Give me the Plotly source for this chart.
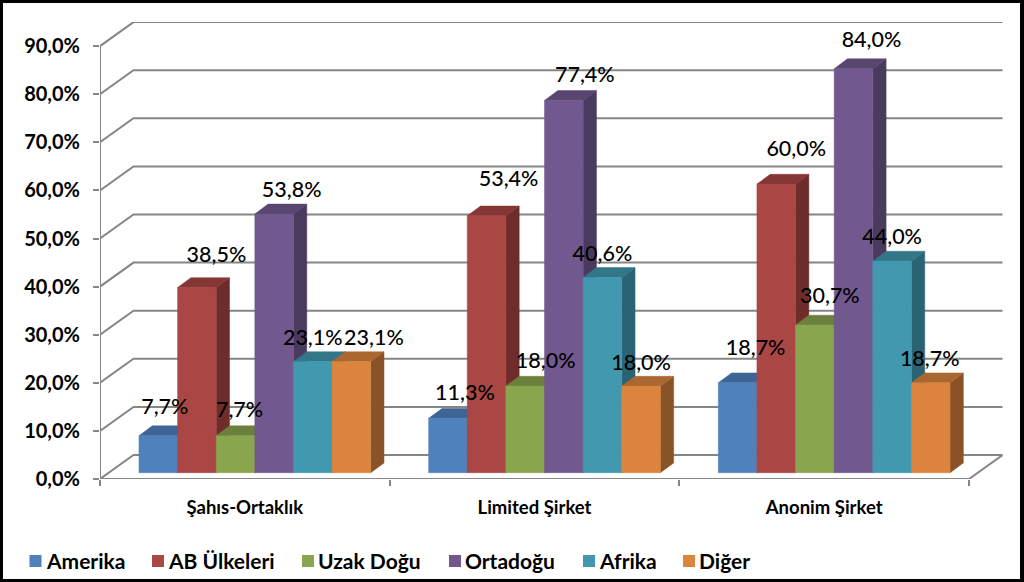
import plotly.graph_objects as go

categories = ["Şahıs-Ortaklık", "Limited Şirket", "Anonim Şirket"]
series_names = ["Amerika", "AB Ülkeleri", "Uzak Doğu", "Ortadoğu", "Afrika", "Diğer"]
amerika = [7.7, 11.3, 18.7]
ab_ulkeleri = [38.5, 53.4, 60.0]
uzak_dogu = [7.7, 18.0, 30.7]
ortadogu = [53.8, 77.4, 84.0]
afrika = [23.1, 40.6, 44.0]
diger = [23.1, 18.0, 18.7]
series_values = [amerika, ab_ulkeleri, uzak_dogu, ortadogu, afrika, diger]
y_ticks = [0, 10, 20, 30, 40, 50, 60, 70, 80, 90]

# styles
front = ["#4F81BD", "#AA4643", "#89A54E", "#71588F", "#4198AF", "#DB843D"]
top = ["#3E6595", "#853735", "#6B803D", "#584570", "#327688", "#AB6730"]
side = ["#335379", "#6E2C2A", "#586932", "#493A5E", "#2A6373", "#8A5327"]
GRID = "#868686"
TXT = "#000000"
FONT = "Lato"

# pixel geometry
W, H = 1024, 582
X0, X1, Y0, Y1 = 100, 1003, 479, 22
PX_X = 289.67   # pixels per category
PX_Y = 4.81     # pixels per percentage point
wall_dx, wall_dy = 33.5 / PX_X, 24 / PX_Y
bar_w = 1 / 7.5
bar_dx, bar_dy = 13.3 / PX_X, 9.8 / PX_Y
shift_x, shift_y = 10 / PX_X, 6.3 / PX_Y
x_max = (X1 - X0) / PX_X
y_max = (Y0 - Y1) / PX_Y

# label offsets from the top-centre of each bar front (px)
label_dx = [[6.5, 17, 18], [19.5, 22, 20], [4, 20.5, 15], [17.5, 21, 18], [0, 0, 0], [22.5, 0, -1]]
label_dy = [[27.5, 23.5, 33.5], [30.5, 35.5, 33.5], [24.5, 23.5, 27.5], [22.5, 24, 27.5], [21.5, 22, 22.5], [21.5, 21.5, 22.5]]

fig = go.Figure()


def line(xs, ys):
    fig.add_trace(go.Scatter(x=xs, y=ys, mode="lines", line=dict(color=GRID, width=2),
                             hoverinfo="skip", showlegend=False, cliponaxis=False))


# walls and floor
n_cat = len(categories)
for t in y_ticks:
    line([0, wall_dx, n_cat + wall_dx], [t, t + wall_dy, t + wall_dy])
line([n_cat, n_cat + wall_dx], [0, wall_dy])
line([0, n_cat], [0, 0])
line([0, 0], [y_ticks[0], y_ticks[-1]])


def poly(name, color, pts_list):
    xs, ys = [], []
    for pts in pts_list:
        xs += [p[0] for p in pts] + [pts[0][0], None]
        ys += [p[1] for p in pts] + [pts[0][1], None]
    fig.add_trace(go.Scatter(x=xs, y=ys, mode="lines", fill="toself", fillcolor=color,
                             line=dict(color=color, width=0.5), name=name,
                             showlegend=False, hoverinfo="skip", cliponaxis=False))


label_x, label_y, label_txt = [], [], []
for s, vals in enumerate(series_values):
    fr, tp, sd = [], [], []
    for c, v in enumerate(vals):
        xl = c + 0.75 * bar_w + s * bar_w + shift_x
        xr = xl + bar_w
        yb = shift_y
        yt = v + shift_y
        fr.append([(xl, yb), (xr, yb), (xr, yt), (xl, yt)])
        tp.append([(xl, yt), (xr, yt), (xr + bar_dx, yt + bar_dy), (xl + bar_dx, yt + bar_dy)])
        sd.append([(xr, yb), (xr + bar_dx, yb + bar_dy), (xr + bar_dx, yt + bar_dy), (xr, yt)])
        label_x.append((xl + xr) / 2 + label_dx[s][c] / PX_X)
        label_y.append(yt + label_dy[s][c] / PX_Y)
        label_txt.append(f"{v:.1f}".replace(".", ",") + "%")
    poly(series_names[s] + " yan", side[s], sd)
    poly(series_names[s] + " üst", top[s], tp)
    poly(series_names[s], front[s], fr)

fig.add_trace(go.Scatter(x=label_x, y=label_y, text=label_txt, mode="text", textposition="middle center",
                         textfont=dict(family=FONT, size=21.5, color=TXT, weight=500), showlegend=False,
                         hoverinfo="skip", cliponaxis=False))


def px(x):
    return (x - X0) / (X1 - X0)


def py(y):
    return (Y0 - y) / (Y0 - Y1)


# white panel inside the black border
shapes = [dict(type="rect", xref="paper", yref="paper", layer="below", line_width=0, fillcolor="#FFFFFF",
               x0=px(3), x1=px(1020), y0=py(3), y1=py(579))]

# legend row
swatch_x = [29.5, 152, 302, 449, 583, 683]
annotations = []
for name, color, sx in zip(series_names, front, swatch_x):
    shapes.append(dict(type="rect", xref="paper", yref="paper", line_width=0, fillcolor=color,
                       x0=px(sx), x1=px(sx + 12), y0=py(555), y1=py(567)))
    annotations.append(dict(xref="paper", yref="paper", x=px(sx + 18), y=py(560.5), text=name, showarrow=False,
                            xanchor="left", yanchor="middle", xshift=-4,
                            font=dict(family=FONT, size=21, color=TXT, weight=700)))

fig.update_layout(
    width=W, height=H, autosize=False,
    margin=dict(l=X0, r=W - X1, t=Y1, b=H - Y0, pad=0),
    paper_bgcolor="#000000", plot_bgcolor="rgba(0,0,0,0)",
    showlegend=False, shapes=shapes, annotations=annotations,
    xaxis=dict(range=[0, x_max], showgrid=False, zeroline=False, showline=False,
               tickmode="array", tickvals=[c + 0.5 for c in range(n_cat)], ticktext=categories,
               ticks="", ticklabelstandoff=15,
               tickfont=dict(family=FONT, size=18.5, color=TXT, weight=700),
               minor=dict(tickmode="array", tickvals=list(range(n_cat + 1)), ticks="outside",
                          ticklen=6, tickwidth=2, tickcolor=GRID, showgrid=False)),
    yaxis=dict(range=[0, y_max], showgrid=False, zeroline=False, showline=False,
               tickmode="array", tickvals=y_ticks,
               ticktext=[f"{t:.1f}".replace(".", ",") + "%" for t in y_ticks],
               ticks="outside", ticklen=6, tickwidth=2, tickcolor=GRID, ticklabelstandoff=9,
               tickfont=dict(family=FONT, size=20, color=TXT, weight=700)),
)

fig.write_html("out.html", config={"displayModeBar": False},
               post_script="document.body.style.margin='0';document.body.style.overflow='hidden';")
